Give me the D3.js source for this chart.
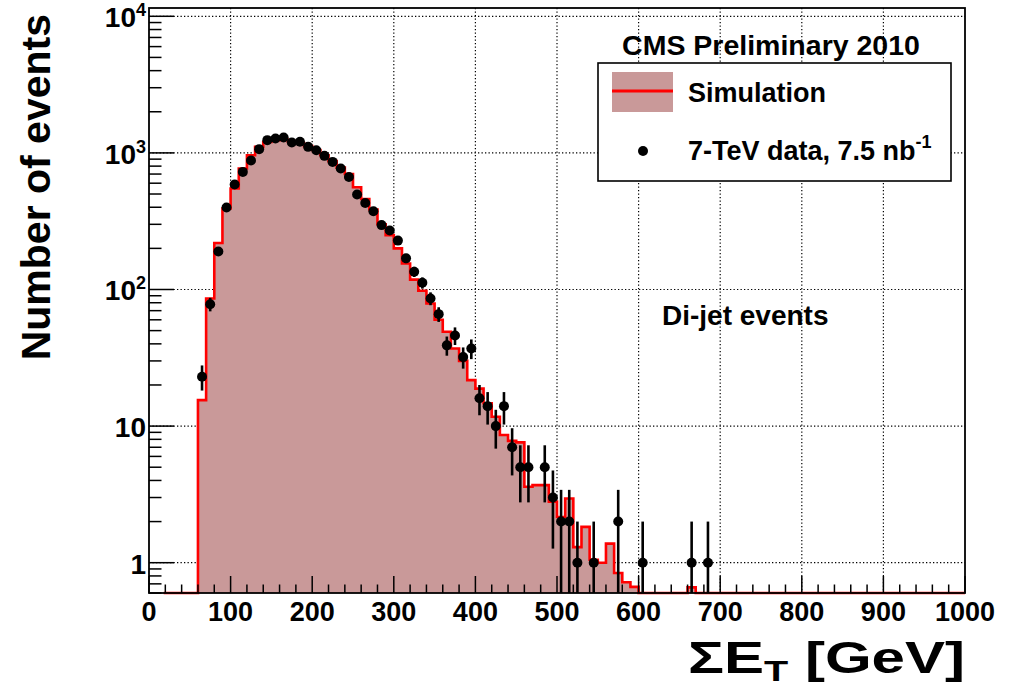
<!DOCTYPE html>
<html><head><meta charset="utf-8">
<script src="https://cdn.jsdelivr.net/npm/d3@7"></script>
<style>
body{margin:0;background:#fff;}
svg{display:block;font-family:"Liberation Sans",Arial,Helvetica,sans-serif;font-weight:bold;}
</style></head>
<body><svg id="c" width="1014" height="692"></svg>
<script>
// Simulation histogram: lower bin edges (GeV) and content (10 GeV bins)
const simBinLow = [60,70,80,90,100,110,120,130,140,150,160,170,180,190,200,210,220,230,240,250,260,270,280,290,300,310,320,330,340,350,360,370,380,390,400,410,420,430,440,450,460,470,480,490,500,510,520,530,540,550,560,570,580,590,600,610,620,630,640,650,660,670];
const simCounts = [15.5,86,219,392,549,769,962,1107,1203,1240,1250,1220,1180,1120,1050,960,870,780,700,560,460,385,300,250,200,155,118,98,79,60,49,37,30,21.7,18.8,14.7,11.7,8.6,7.8,7.6,3.6,3.7,3.7,2.8,2.16,2.95,1.3,1.83,1.05,1.0,1.38,0.84,0.72,0.665,0,0,0,0,0,0,0.66,0];
const binWidth = 10;
const simBaselineStart = 18;

// Data points: bin centres (GeV) and event counts
const dataCenters = [65,75,85,95,105,115,125,135,145,155,165,175,185,195,205,215,225,235,245,255,265,275,285,295,305,315,325,335,345,355,365,375,385,395,405,415,425,435,445,455,465,485,495,505,515,525,545,575,605,665,685];
const dataCounts  = [23,78,190,398,587,726,880,1065,1240,1275,1297,1190,1205,1107,1047,951,859,769,667,496,430,374,296,270,228,169,135,112,86,66,39,46,32,37,16,14,10,14,7,5,5,5,3,2,2,1,1,2,1,1,1];

// Axis ticks
const xMajorTicks = [0,100,200,300,400,500,600,700,800,900,1000];
const xMinorTicks = [20,40,60,80,120,140,160,180,220,240,260,280,320,340,360,380,420,440,460,480,520,540,560,580,620,640,660,680,720,740,760,780,820,840,860,880,920,940,960,980];
const yMajorTicks = [1,10,100,1000,10000];
const yTickLabels = [["1",""],["10",""],["10","2"],["10","3"],["10","4"]];
const yMinorMult = [2,3,4,5,6,7,8,9];

const xDomain = [0,1000], yDomain = [0.6, 11500];
const W = {l:149, r:965, t:8, b:593};

const svg = d3.select("#c");
const x = d3.scaleLinear().domain(xDomain).range([W.l, W.r]);
const y = d3.scaleLog().domain(yDomain).range([W.b, W.t]);
const yc = v => v < yDomain[0] ? W.b : y(v);

// grid
const grid = svg.append("g").attr("stroke","#000").attr("stroke-width",1.2).attr("stroke-dasharray","1.3,2.2");
xMajorTicks.slice(1,-1).forEach(t=>grid.append("line").attr("x1",x(t)).attr("x2",x(t)).attr("y1",W.t).attr("y2",W.b));
yMajorTicks.forEach(t=>grid.append("line").attr("x1",W.l).attr("x2",W.r).attr("y1",y(t)).attr("y2",y(t)));

// simulation fill + line
let pts = [[x(simBaselineStart), W.b], [x(simBinLow[0]), W.b]];
simBinLow.forEach((lo,i)=>{
  const yy = yc(simCounts[i]);
  pts.push([x(lo), yy]); pts.push([x(lo+binWidth), yy]);
});
pts.push([x(simBinLow[simBinLow.length-1]+binWidth), W.b]);
pts.push([x(xDomain[1]), W.b]);
const line = d3.line();
svg.append("path").attr("d", line(pts)+"Z").attr("fill","#c99999").attr("stroke","none");
svg.append("path").attr("d", line(pts)).attr("fill","none").attr("stroke","#ff0000").attr("stroke-width",2.6).attr("stroke-linejoin","miter");

// axes ticks
const ax = svg.append("g").attr("stroke","#000").attr("stroke-width",1.5);
xMajorTicks.forEach(t=>ax.append("line").attr("x1",x(t)).attr("x2",x(t)).attr("y1",W.b).attr("y2",W.b-17));
xMinorTicks.forEach(t=>ax.append("line").attr("x1",x(t)).attr("x2",x(t)).attr("y1",W.b).attr("y2",W.b-8.5));
yMajorTicks.forEach(t=>ax.append("line").attr("x1",W.l).attr("x2",W.l+25).attr("y1",y(t)).attr("y2",y(t)));
const yMinorTicks = [];
[0.1,1,10,100,1000].forEach(d=>yMinorMult.forEach(m=>{const v=d*m; if(v>=yDomain[0]&&v<=yDomain[1]) yMinorTicks.push(v);}));
yMinorTicks.forEach(t=>ax.append("line").attr("x1",W.l).attr("x2",W.l+12.5).attr("y1",y(t)).attr("y2",y(t)));

// data points with error bars
const dg = svg.append("g");
dataCenters.forEach((c,i)=>{
  const n = dataCounts[i], e = Math.sqrt(n);
  dg.append("line").attr("x1",x(c)).attr("x2",x(c)).attr("y1",yc(n+e)).attr("y2",yc(n-e))
    .attr("stroke","#000").attr("stroke-width",2.6);
  dg.append("circle").attr("cx",x(c)).attr("cy",y(n)).attr("r",5).attr("fill","#000");
});

// frame
svg.append("rect").attr("x",W.l).attr("y",W.t).attr("width",W.r-W.l).attr("height",W.b-W.t)
  .attr("fill","none").attr("stroke","#000").attr("stroke-width",1.8);

// tick labels
const xl = svg.append("g").attr("font-size",27).attr("text-anchor","middle");
xMajorTicks.forEach(t=>xl.append("text").attr("x",x(t)).attr("y",621).text(t));
const yl = svg.append("g").attr("font-size",28).attr("text-anchor","end");
yMajorTicks.forEach((t,i)=>{
  const [base,sup] = yTickLabels[i];
  const tx = yl.append("text").attr("x",146).attr("y",y(t)+11);
  tx.append("tspan").text(base);
  if(sup) tx.append("tspan").attr("font-size",18).attr("dy",-11).text(sup);
});

// axis titles
svg.append("text").attr("transform","translate(50,14) rotate(-90)").attr("text-anchor","end")
  .attr("font-size",41).text("Number of events");
const xt = svg.append("text").attr("x",688).attr("y",673).attr("font-size",44)
  .attr("textLength",277).attr("lengthAdjust","spacingAndGlyphs");
xt.append("tspan").text("\u03A3E");
xt.append("tspan").attr("font-size",29).attr("dy",8).text("T");
xt.append("tspan").attr("dy",-8).text(" [GeV]");

// CMS label
svg.append("text").attr("x",771).attr("y",55).attr("text-anchor","middle").attr("font-size",28.5).text("CMS Preliminary 2010");
// Di-jet
svg.append("text").attr("x",662).attr("y",325).attr("font-size",28).text("Di-jet events");

// legend
const lg = svg.append("g");
lg.append("rect").attr("x",598).attr("y",63).attr("width",353).attr("height",118).attr("fill","#fff").attr("stroke","#000").attr("stroke-width",1.6);
lg.append("rect").attr("x",612).attr("y",72).attr("width",61).attr("height",40).attr("fill","#c99999");
lg.append("line").attr("x1",612).attr("x2",673).attr("y1",91).attr("y2",91).attr("stroke","#ff0000").attr("stroke-width",3);
lg.append("text").attr("x",688).attr("y",102).attr("font-size",27).text("Simulation");
lg.append("circle").attr("cx",643).attr("cy",151).attr("r",5).attr("fill","#000");
const lt = lg.append("text").attr("x",688).attr("y",160).attr("font-size",27);
lt.append("tspan").text("7-TeV data, 7.5 nb");
lt.append("tspan").attr("font-size",18).attr("dy",-12).text("-1");
</script></body></html>
